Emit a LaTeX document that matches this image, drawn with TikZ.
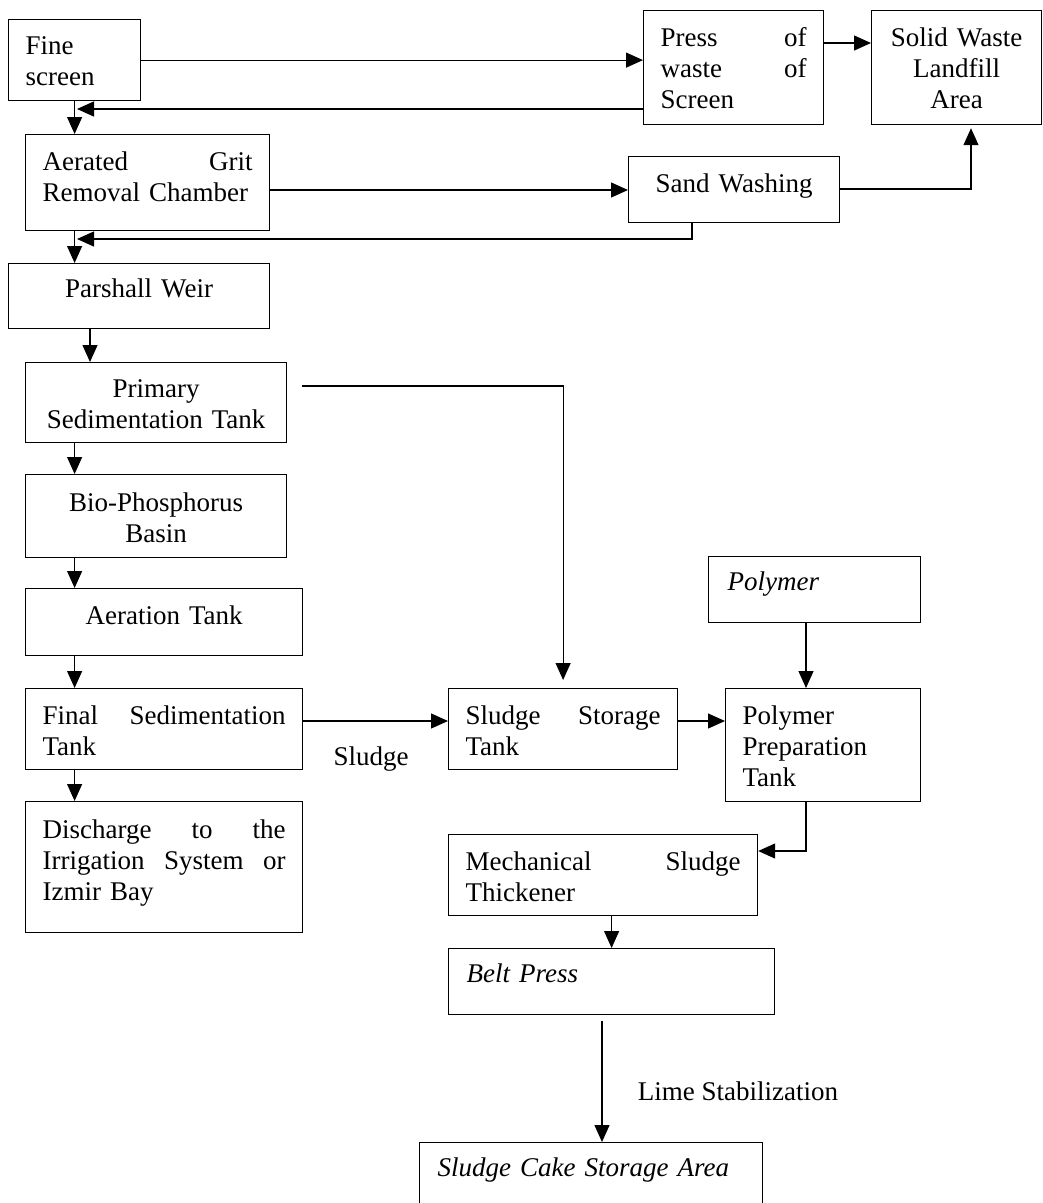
\documentclass[tikz,border=0pt]{standalone}
\usepackage{fontspec}
\setmainfont{Liberation Serif}
\usetikzlibrary{arrows.meta,positioning}

\newcommand{\boxfont}{\fontsize{27}{31}\selectfont}

\begin{document}
\begin{tikzpicture}[x=1pt, y=-1pt, line width=1.2pt,
        box/.style={draw, anchor=north west, inner sep=0pt},
        txt/.style={anchor=north west, inner sep=0pt, align=left, font=\boxfont},
        mid/.style={txt, align=center},
        slant/.style={txt, font=\boxfont\itshape},
        note/.style={inner sep=0pt, font=\boxfont},
        arr/.style={-{Triangle[length=17pt, width=15pt]}}]
                \useasboundingbox (0,0) rectangle (1043,1203);
                \clip (0,0) rectangle (1043,1203);

                \node[box, minimum width=132pt, minimum height=81pt] (fine) at (8,19) {};
                \node[txt, text width=98pt, below right=17pt and 17pt of fine.north west] (fine-t) {Fine\\screen};
                \node[box, minimum width=180pt, minimum height=114pt] (press) at (643,10) {};
                \node[txt, text width=146pt, below right=17pt and 17pt of press.north west] (press-t) {Press\hfill of\\waste\hfill of\\Screen};
                \node[box, minimum width=170pt, minimum height=114pt] (solid) at (871,10) {};
                \node[mid, text width=136pt, below right=17pt and 17pt of solid.north west] (solid-t) {Solid Waste\\Landfill\\Area};
                \node[box, minimum width=244pt, minimum height=96pt] (grit) at (25,134) {};
                \node[txt, text width=210pt, below right=17pt and 17pt of grit.north west] (grit-t) {Aerated\hfill Grit\\Removal Chamber};
                \node[box, minimum width=211pt, minimum height=66pt] (sand) at (628,156) {};
                \node[mid, text width=177pt, below right=17pt and 17pt of sand.north west] (sand-t) {Sand Washing};
                \node[box, minimum width=261pt, minimum height=65pt] (weir) at (8,263) {};
                \node[mid, text width=227pt, below right=15pt and 17pt of weir.north west] (weir-t) {Parshall Weir};
                \node[box, minimum width=261pt, minimum height=80pt] (primary) at (25,362) {};
                \node[mid, text width=227pt, below right=17pt and 17pt of primary.north west] (primary-t) {Primary\\Sedimentation Tank};
                \node[box, minimum width=261pt, minimum height=83pt] (bio) at (25,474) {};
                \node[mid, text width=227pt, below right=18pt and 17pt of bio.north west] (bio-t) {Bio-Phosphorus\\Basin};
                \node[box, minimum width=277pt, minimum height=67pt] (aeration) at (25,588) {};
                \node[mid, text width=243pt, below right=17pt and 17pt of aeration.north west] (aeration-t) {Aeration Tank};
                \node[box, minimum width=277pt, minimum height=81pt] (final) at (25,688) {};
                \node[txt, text width=243pt, below right=17pt and 17pt of final.north west] (final-t) {Final\hfill Sedimentation\\Tank};
                \node[box, minimum width=277pt, minimum height=131pt] (discharge) at (25,801) {};
                \node[txt, text width=243pt, below right=18pt and 17pt of discharge.north west] (discharge-t) {Discharge\hfill to\hfill the\\Irrigation\hfill System\hfill or\\Izmir Bay};
                \node[box, minimum width=229pt, minimum height=81pt] (storage) at (448,688) {};
                \node[txt, text width=195pt, below right=17pt and 17pt of storage.north west] (storage-t) {Sludge\hfill Storage\\Tank};
                \node[box, minimum width=212pt, minimum height=66pt] (polymer) at (708,556) {};
                \node[slant, text width=178pt, below right=15pt and 19pt of polymer.north west] (polymer-t) {Polymer};
                \node[box, minimum width=195pt, minimum height=113pt] (prep) at (725,688) {};
                \node[txt, text width=161pt, below right=17pt and 17pt of prep.north west] (prep-t) {Polymer\\Preparation\\Tank};
                \node[box, minimum width=309pt, minimum height=81pt] (mech) at (448,834) {};
                \node[txt, text width=275pt, below right=17pt and 17pt of mech.north west] (mech-t) {Mechanical\hfill Sludge\\Thickener};
                \node[box, minimum width=326pt, minimum height=66pt] (belt) at (448,948) {};
                \node[slant, text width=292pt, below right=15pt and 18pt of belt.north west] (belt-t) {Belt Press};
                \node[box, minimum width=343pt, minimum height=80pt] (cake) at (419,1142) {};
                \node[slant, text width=309pt, below right=15pt and 18pt of cake.north west] (cake-t) {Sludge Cake Storage Area};

                \node[note, anchor=base] (sludge) at (371,765) {Sludge};
                \node[note, anchor=base] (lime) at (738,1100) {Lime Stabilization};

                \coordinate (back1) at (77,109);
                \coordinate (back2) at (77,239);
                \draw[arr] (fine.east) -- (fine.east -| press.west);
                \draw[arr] (press.west |- back1) -- (back1);
                \draw[arr] (press.east |- 0,43) -- (solid.west |- 0,43);
                \draw[arr] (fine.south) -- (fine.south |- grit.north);
                \draw[arr] (grit.east |- 0,190) -- (sand.west |- 0,190);
                \draw[arr, shorten >=3pt] (sand.east |- 0,189) -| (solid.south -| 971,0);
                \draw[arr] (sand.south -| 692,0) |- (back2);
                \draw[arr] (fine.south |- grit.south) -- (fine.south |- weir.north);
                \draw[arr] (weir.south -| 90,0) -- (primary.north -| 90,0);
                \foreach \a/\b in {primary/bio, bio/aeration, aeration/final, final/discharge} {
                        \draw[arr] (\a.south -| fine.south) -- (\b.north -| fine.south);
                }
                \draw[arr, shorten <=15pt, shorten >=8pt] (primary.east |- 0,386) -| (storage.north);
                \draw[arr] (final.east |- 0,721) -- (storage.west |- 0,721);
                \draw[arr] (storage.east |- 0,721) -- (prep.west |- 0,721);
                \draw[arr] (polymer.south -| 806,0) -- (prep.north -| 806,0);
                \draw[arr] (prep.south -| 806,0) |- (mech.east |- 0,851);
                \draw[arr] (belt.north |- mech.south) -- (belt.north);
                \draw[arr, shorten <=6pt] (belt.south -| 602,0) -- (cake.north -| 602,0);
        \end{tikzpicture}
\end{document}
